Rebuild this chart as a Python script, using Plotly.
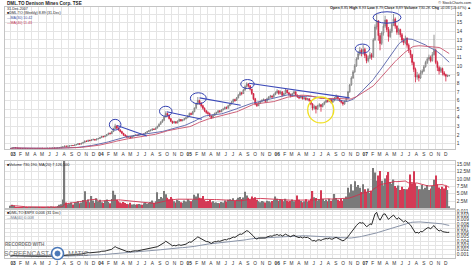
import pandas as pd
import plotly.graph_objects as go

W, H = 474, 266
ML, MR = 5, 19
PW = W - ML - MR

# ---------------- data (weekly) ----------------
close_2003 = [0.45, 0.52, 0.55, 0.5, 0.48, 0.46, 0.45, 0.44, 0.45, 0.43, 0.42, 0.44, 0.43,
              0.44, 0.45, 0.44, 0.46, 0.45, 0.47, 0.46, 0.45, 0.47, 0.48, 0.47, 0.49, 0.5,
              0.49, 0.5, 0.52, 0.55, 0.6, 0.63, 0.72, 0.7, 0.72, 0.75, 0.8, 0.78, 0.85,
              0.9, 1.0, 0.95, 1.05, 1.15, 1.3, 1.25, 1.4, 1.35, 1.45, 1.5, 1.42, 1.55]
high_2003 = [0.48, 0.56, 0.6, 0.56, 0.52, 0.49, 0.48, 0.47, 0.47, 0.46, 0.45, 0.46, 0.46,
             0.46, 0.47, 0.47, 0.48, 0.48, 0.49, 0.49, 0.48, 0.49, 0.5, 0.5, 0.51, 0.52,
             0.52, 0.53, 0.55, 0.58, 0.64, 0.7, 0.78, 0.76, 0.76, 0.8, 0.85, 0.84, 0.9,
             0.96, 1.06, 1.04, 1.1, 1.2, 1.38, 1.38, 1.46, 1.45, 1.52, 1.58, 1.54, 1.6]
low_2003 = [0.42, 0.44, 0.5, 0.47, 0.45, 0.44, 0.43, 0.42, 0.42, 0.41, 0.4, 0.41, 0.41,
            0.42, 0.43, 0.42, 0.43, 0.43, 0.44, 0.44, 0.43, 0.44, 0.45, 0.45, 0.46, 0.47,
            0.47, 0.48, 0.49, 0.51, 0.54, 0.58, 0.62, 0.66, 0.68, 0.68, 0.74, 0.74, 0.77,
            0.84, 0.88, 0.9, 0.93, 1.02, 1.12, 1.2, 1.22, 1.3, 1.32, 1.4, 1.38, 1.4]

close_2004 = [1.6, 1.7, 1.85, 1.8, 1.9, 2.05, 2.2, 2.15, 2.4, 2.75, 3.05, 2.8, 2.6,
              2.4, 2.2, 2.0, 1.9, 1.75, 1.8, 1.7, 1.85, 1.95, 2.0, 1.95, 2.05, 2.1,
              2.05, 2.15, 2.3, 2.4, 2.5, 2.55, 2.7, 2.65, 2.8, 3.0, 3.25, 3.5, 3.7,
              4.1, 4.5, 4.3, 3.9, 3.6, 3.4, 3.55, 3.4, 3.6, 3.8, 3.65, 3.75, 3.9, 4.0]
high_2004 = [1.66, 1.78, 1.9, 1.9, 1.96, 2.1, 2.28, 2.3, 2.48, 2.85, 3.3, 3.15, 2.9,
             2.65, 2.5, 2.25, 2.1, 1.95, 1.9, 1.85, 1.9, 2.0, 2.08, 2.06, 2.1, 2.18,
             2.15, 2.2, 2.35, 2.48, 2.58, 2.65, 2.78, 2.75, 2.88, 3.08, 3.35, 3.6, 3.85,
             4.2, 4.75, 4.6, 4.35, 3.95, 3.65, 3.65, 3.6, 3.7, 3.9, 3.85, 3.82, 3.98, 4.1]
low_2004 = [1.5, 1.58, 1.68, 1.74, 1.76, 1.86, 2.0, 2.08, 2.12, 2.35, 2.7, 2.7, 2.5,
            2.3, 2.1, 1.9, 1.8, 1.65, 1.68, 1.62, 1.66, 1.8, 1.88, 1.88, 1.9, 2.0,
            1.98, 2.0, 2.1, 2.25, 2.35, 2.42, 2.5, 2.58, 2.6, 2.78, 2.95, 3.2, 3.42,
            3.65, 4.05, 4.15, 3.8, 3.5, 3.3, 3.35, 3.3, 3.35, 3.55, 3.55, 3.6, 3.7, 3.82]

close_2005 = [4.2, 4.5, 4.4, 4.7, 5.1, 5.6, 6.0, 5.7, 5.4, 5.1, 4.8, 4.6,
              4.5, 4.2, 4.0, 4.3, 4.5, 4.6, 4.8, 4.7, 4.9, 5.0, 5.2, 5.1, 5.4,
              5.6, 5.8, 6.1, 6.0, 6.3, 6.6, 6.9, 6.8, 7.2, 7.6, 7.9, 7.7, 7.3, 6.8,
              6.2, 5.6, 5.4, 5.7, 5.9, 6.0, 6.1, 5.9, 6.2, 6.4, 6.5, 6.4, 6.7]
high_2005 = [4.3, 4.6, 4.6, 4.8, 5.2, 5.75, 6.4, 6.1, 5.8, 5.5, 5.2, 4.9,
             4.75, 4.6, 4.3, 4.4, 4.6, 4.7, 4.9, 4.88, 5.0, 5.1, 5.3, 5.3, 5.5,
             5.7, 5.95, 6.2, 6.2, 6.4, 6.75, 7.05, 7.0, 7.35, 7.75, 8.1, 8.0, 7.75, 7.35,
             6.85, 6.3, 5.8, 5.85, 6.0, 6.15, 6.25, 6.1, 6.3, 6.5, 6.65, 6.6, 6.8]
low_2005 = [3.95, 4.15, 4.3, 4.35, 4.65, 5.05, 5.5, 5.5, 5.2, 4.95, 4.65, 4.45,
            4.35, 4.1, 3.85, 3.95, 4.2, 4.4, 4.55, 4.6, 4.65, 4.85, 4.95, 5.0, 5.05,
            5.35, 5.55, 5.75, 5.85, 5.95, 6.25, 6.55, 6.6, 6.75, 7.15, 7.5, 7.5, 7.15, 6.65,
            6.05, 5.45, 5.25, 5.35, 5.6, 5.8, 5.9, 5.75, 5.85, 6.1, 6.3, 6.25, 6.35]

close_2006 = [6.9, 7.1, 6.8, 7.0, 6.6, 6.8, 7.2, 6.9, 6.7, 6.5, 6.8, 7.0, 6.6,
              6.4, 6.3, 6.5, 6.2, 6.3, 6.1, 6.2, 6.0, 5.6, 5.1, 5.3, 5.0, 5.4,
              5.5, 5.3, 5.6, 5.8, 6.0, 5.9, 6.1, 5.8, 6.0, 6.3, 6.5, 6.2, 6.0,
              5.8, 5.6, 5.9, 6.3, 7.0, 7.8, 8.6, 9.3, 10.0, 10.8, 11.4, 11.8, 11.6]
high_2006 = [7.05, 7.3, 7.2, 7.15, 7.05, 6.9, 7.35, 7.25, 6.95, 6.8, 6.9, 7.15, 7.05,
             6.7, 6.5, 6.6, 6.55, 6.45, 6.35, 6.3, 6.25, 6.05, 5.7, 5.5, 5.4, 5.5,
             5.7, 5.6, 5.7, 5.9, 6.1, 6.05, 6.2, 6.15, 6.1, 6.4, 6.7, 6.55, 6.25,
             6.05, 5.85, 6.0, 6.4, 7.1, 7.9, 8.8, 9.5, 10.2, 11.0, 11.7, 12.2, 12.0]
low_2006 = [6.6, 6.8, 6.65, 6.7, 6.45, 6.5, 6.7, 6.8, 6.55, 6.35, 6.45, 6.7, 6.5,
            6.3, 6.15, 6.25, 6.1, 6.1, 6.0, 6.0, 5.85, 5.45, 4.85, 4.95, 4.5, 4.9,
            5.2, 4.7, 5.2, 5.45, 5.7, 5.75, 5.8, 5.65, 5.7, 5.9, 6.2, 6.1, 5.85,
            5.65, 5.4, 5.5, 5.85, 6.2, 6.9, 7.7, 8.5, 9.2, 9.9, 10.7, 11.2, 11.1]

close_2007 = [11.9, 11.2, 10.6, 10.9, 11.3, 11.0, 13.0, 14.5, 15.2, 13.5, 12.6, 13.8, 14.6,
              15.3, 14.2, 13.4, 14.0, 14.8, 15.4, 14.6, 13.9, 14.2, 13.6, 13.0, 12.7, 13.2,
              12.4, 11.8, 11.3, 10.4, 9.6, 8.7, 8.9, 8.6, 9.2, 9.4, 9.9, 10.4, 10.8,
              11.0, 10.6, 11.3, 11.8, 10.4, 9.8, 9.4, 9.7, 9.2, 9.0, 8.8, 8.83, 8.89]
high_2007 = [12.4, 12.1, 11.4, 11.2, 11.6, 11.5, 13.2, 14.8, 16.0, 15.3, 13.8, 14.0, 14.9,
             15.8, 15.4, 14.5, 14.3, 15.0, 16.0, 15.6, 14.7, 14.4, 14.3, 13.8, 13.2, 13.5,
             13.3, 12.6, 11.9, 11.4, 10.5, 9.8, 9.3, 9.1, 9.5, 9.6, 10.1, 10.6, 11.0,
             11.3, 11.2, 11.6, 13.6, 12.0, 10.6, 10.0, 9.9, 9.8, 9.4, 9.1, 9.0, 8.93]
low_2007 = [11.3, 10.9, 10.3, 10.4, 10.8, 10.7, 11.0, 12.9, 14.2, 12.9, 11.8, 12.4, 13.5,
            14.4, 13.9, 12.8, 13.2, 13.8, 14.6, 14.3, 13.6, 13.6, 13.3, 12.7, 12.4, 12.5,
            12.1, 11.5, 10.9, 10.1, 9.3, 8.1, 8.4, 8.2, 8.5, 9.0, 9.3, 9.8, 10.2,
            10.6, 10.4, 10.5, 11.2, 10.2, 9.4, 9.0, 9.2, 8.9, 8.8, 8.2, 8.7, 8.79]

# weekly volume, millions of shares
vol_2003 = [0.9, 1.2, 0.8, 0.5, 0.4, 0.3, 0.3, 0.4, 0.3, 0.3, 0.2, 0.3, 0.3,
            0.3, 0.4, 0.3, 0.3, 0.3, 0.4, 0.3, 0.3, 0.4, 0.5, 0.4, 0.6, 0.5,
            0.4, 0.5, 0.8, 1.2, 1.4, 3.0, 16.5, 2.0, 1.4, 1.6, 2.0, 1.3, 1.8,
            2.1, 2.4, 1.7, 2.0, 2.8, 5.8, 2.4, 3.0, 2.1, 4.2, 2.7, 1.9, 3.4]
vol_2004 = [2.4, 2.9, 2.1, 1.8, 2.7, 3.0, 2.2, 1.7, 3.2, 6.0, 4.6, 2.9, 2.4,
            2.0, 1.7, 2.2, 1.8, 1.5, 1.4, 1.9, 1.3, 1.4, 1.2, 1.4, 1.5, 1.3,
            1.2, 1.7, 2.0, 1.6, 1.8, 2.2, 2.7, 1.9, 2.4, 5.5, 3.2, 3.9, 3.4,
            5.9, 4.8, 3.6, 3.1, 3.9, 3.3, 2.4, 2.0, 2.9, 2.5, 2.1, 1.9, 2.7, 2.3]
vol_2005 = [3.1, 2.7, 2.4, 2.9, 4.6, 4.0, 5.1, 3.6, 3.4, 4.2, 2.9, 2.4,
            2.5, 2.8, 2.1, 2.4, 1.9, 2.0, 1.8, 1.7, 2.2, 2.0, 2.7, 2.3, 2.9,
            3.1, 2.8, 3.4, 2.5, 3.0, 3.6, 3.9, 3.2, 3.7, 5.7, 4.4, 3.6, 3.1, 4.0,
            3.4, 3.8, 2.9, 2.4, 2.1, 2.5, 2.3, 2.0, 2.6, 2.4, 2.1, 2.5, 2.9]
vol_2006 = [4.0, 3.3, 2.6, 3.1, 2.9, 2.4, 3.3, 2.6, 2.3, 2.5, 3.0, 2.4, 2.7,
            4.4, 2.9, 2.5, 2.1, 2.4, 3.1, 2.3, 2.6, 3.3, 5.9, 3.8, 3.5, 2.6,
            3.1, 6.2, 3.2, 2.5, 2.9, 2.4, 3.3, 2.6, 3.1, 4.9, 3.5, 2.9, 2.5,
            3.2, 2.6, 3.3, 4.0, 7.0, 5.4, 8.2, 6.1, 9.3, 7.3, 8.0, 7.0, 5.6]
vol_2007 = [8.2, 6.5, 5.6, 6.8, 5.2, 6.0, 13.8, 12.3, 9.4, 11.2, 12.8, 9.4, 7.8,
            10.2, 11.3, 12.4, 9.0, 8.3, 9.9, 7.6, 7.0, 7.8, 6.3, 7.4, 6.6, 6.5,
            6.5, 7.1, 11.6, 8.6, 12.7, 8.6, 7.6, 6.5, 6.5, 8.0, 6.5, 7.0, 8.0,
            6.3, 6.8, 7.6, 9.8, 11.2, 8.2, 7.1, 6.6, 7.4, 6.8, 7.6, 6.3, 0.73]

# S&P 500 monthly closes 2003-2007 (for the DML.TO:$SPX ratio)
spx_monthly = [856, 841, 848, 917, 964, 975, 990, 1008, 996, 1051, 1058, 1112,
               1131, 1145, 1126, 1107, 1121, 1141, 1102, 1104, 1115, 1130, 1174, 1212,
               1181, 1204, 1181, 1157, 1192, 1191, 1234, 1220, 1229, 1207, 1249, 1248,
               1280, 1281, 1295, 1311, 1270, 1270, 1277, 1304, 1336, 1378, 1401, 1418,
               1438, 1407, 1421, 1482, 1531, 1503, 1455, 1474, 1527, 1549, 1481, 1468]

first_open = 0.44
month_letters = ['J', 'F', 'M', 'A', 'M', 'J', 'J', 'A', 'S', 'O', 'N', 'D']
price_ticks = list(range(1, 17))
vol_ticks = [2.5, 5.0, 7.5, 10.0, 12.5, 15.0]
rs_ticks = [0.001, 0.002, 0.003, 0.004, 0.005, 0.006, 0.007, 0.008, 0.009, 0.010, 0.011]

# ---------------- assemble ----------------
close = close_2003 + close_2004 + close_2005 + close_2006 + close_2007
high = high_2003 + high_2004 + high_2005 + high_2006 + high_2007
low = low_2003 + low_2004 + low_2005 + low_2006 + low_2007
vol = vol_2003 + vol_2004 + vol_2005 + vol_2006 + vol_2007
dates = pd.date_range('2003-01-03', periods=len(close), freq='W-FRI')
opn = [first_open] + close[:-1]
high = [max(h, o, c) for h, o, c in zip(high, opn, close)]
low = [min(l, o, c) for l, o, c in zip(low, opn, close)]

s_close = pd.Series(close, index=dates)
ma_fast = s_close.rolling(30, min_periods=1).mean()
ma_slow = s_close.rolling(40, min_periods=1).mean()
spx = [spx_monthly[(d.year - 2003) * 12 + d.month - 1] for d in dates]
rs = pd.Series([c / s for c, s in zip(close, spx)], index=dates)
rs_ma = rs.rolling(40, min_periods=1).mean()
vol_s = pd.Series(vol, index=dates)
vol_ma = vol_s.rolling(20, min_periods=1).mean()
vol_col = ['#7a7a7a' if c >= o else '#d43a55' for o, c in zip(opn, close)]

RED = '#d0203f'
GRID = '#e4e4e4'
FRAME = '#c4c4c4'
FONT = 'Liberation Sans, Arial, sans-serif'


def pyv(py):  # pixel row -> paper y
    return 1 - py / H


def pxv(px):  # pixel column -> paper x (plot area)
    return (px - ML) / PW


fig = go.Figure()
fig.add_trace(go.Candlestick(
    x=dates, open=opn, high=high, low=low, close=close,
    increasing=dict(line=dict(color='#7c7c7c', width=0.8), fillcolor='#d8d8d8'),
    decreasing=dict(line=dict(color=RED, width=0.8), fillcolor=RED),
    whiskerwidth=0, xaxis='x', yaxis='y', showlegend=False, hoverinfo='skip'))
fig.add_trace(go.Scatter(x=dates, y=ma_fast, mode='lines', line=dict(color='#5560a8', width=0.9),
                         xaxis='x', yaxis='y', showlegend=False, hoverinfo='skip'))
fig.add_trace(go.Scatter(x=dates, y=ma_slow, mode='lines', line=dict(color='#c8506a', width=0.9),
                         xaxis='x', yaxis='y', showlegend=False, hoverinfo='skip'))
fig.add_trace(go.Bar(x=dates, y=vol, marker=dict(color=vol_col, line=dict(width=0)),
                     xaxis='x2', yaxis='y2', showlegend=False, hoverinfo='skip'))
fig.add_trace(go.Scatter(x=dates, y=vol_ma, mode='lines', line=dict(color='#d0304c', width=0.9),
                         xaxis='x2', yaxis='y2', showlegend=False, hoverinfo='skip'))
fig.add_trace(go.Scatter(x=dates, y=rs_ma, mode='lines', line=dict(color='#8a94a8', width=1),
                         xaxis='x3', yaxis='y3', showlegend=False, hoverinfo='skip'))
fig.add_trace(go.Scatter(x=dates, y=rs, mode='lines', line=dict(color='#111111', width=0.9),
                         xaxis='x3', yaxis='y3', showlegend=False, hoverinfo='skip'))

month_starts = pd.date_range('2003-01-01', '2007-12-01', freq='MS')
tick_text = ['<b>%02d</b>' % (d.year % 100) if d.month == 1 else month_letters[d.month - 1]
             for d in month_starts]
xrange_ = ['2002-12-11', '2008-01-21']

xcommon = dict(type='date', range=xrange_, tickvals=month_starts, showgrid=True, gridcolor=GRID,
               gridwidth=0.6, zeroline=False, showline=True, linecolor=FRAME, mirror=True,
               linewidth=0.7, ticks='', automargin=False)
xlab = dict(ticktext=tick_text, showticklabels=True, ticklabelshift=3,
            tickfont=dict(size=4.8, color='#333', family=FONT), tickangle=0)
ycommon = dict(side='right', showgrid=True, gridcolor=GRID, gridwidth=0.6, zeroline=False,
               showline=True, linecolor=FRAME, mirror=True, linewidth=0.7, ticks='',
               tickfont=dict(size=4.8, color='#333', family=FONT), automargin=False)

fig.update_layout(
    width=W, height=H, margin=dict(l=ML, r=MR, t=0, b=0),
    paper_bgcolor='white', plot_bgcolor='white', bargap=0.25,
    xaxis=dict(**xcommon, **xlab, domain=[0, 1], anchor='y', rangeslider=dict(visible=False)),
    xaxis2=dict(**xcommon, domain=[0, 1], anchor='y2', matches='x', showticklabels=False),
    xaxis3=dict(**xcommon, **xlab, domain=[0, 1], anchor='y3', matches='x'),
    yaxis=dict(**ycommon, domain=[pyv(149), pyv(7)], range=[0.387, 16.81], tickvals=price_ticks),
    yaxis2=dict(**ycommon, domain=[pyv(208.3), pyv(161)], range=[0, 16.2], tickvals=vol_ticks,
                ticktext=['%.1fM' % v for v in vol_ticks]),
    yaxis3=dict(**ycommon, domain=[pyv(258), pyv(209.5)], range=[0.00007, 0.01135], tickvals=rs_ticks,
                tickformat='.3f'),
)

# ---------------- annotations (ellipses, trendlines) in data units ----------------
ellipses = [  # (center date, center price, half width days, half height price, colour)
    ('2004-03-12', 3.2, 24, 0.62, '#3340b0'),
    ('2004-10-08', 4.75, 26, 0.58, '#3340b0'),
    ('2005-02-20', 6.25, 33, 0.64, '#3340b0'),
    ('2005-09-12', 7.9, 28, 0.52, '#3340b0'),
    ('2007-01-02', 12.0, 30, 0.52, '#3340b0'),
    ('2007-04-14', 15.6, 58, 0.66, '#3340b0'),
    ('2006-07-13', 4.9, 54, 1.5, '#f0e020'),
]
for d, p, hw, hh, col in ellipses:
    c = pd.Timestamp(d)
    fig.add_shape(type='circle', xref='x', yref='y',
                  x0=c - pd.Timedelta(days=hw), x1=c + pd.Timedelta(days=hw),
                  y0=p - hh, y1=p + hh, line=dict(color=col, width=1.3 if col == '#f0e020' else 1))

trendlines = [
    ('2004-03-20', 3.1, '2004-07-21', 1.9),
    ('2004-10-12', 4.7, '2005-03-07', 3.82),
    ('2005-02-25', 6.3, '2005-08-15', 5.45),
    ('2005-09-18', 8.0, '2006-11-10', 6.3),
]
for d0, p0, d1, p1 in trendlines:
    fig.add_shape(type='line', xref='x', yref='y', x0=d0, y0=p0, x1=d1, y1=p1,
                  line=dict(color='#3a48b8', width=1.1))


# ---------------- header texts ----------------
def txt(px, py, s, size=4.2, color='#222', anchor='left', yanchor='middle', align='left'):
    fig.add_annotation(x=pxv(px), y=pyv(py), xref='paper', yref='paper', text=s,
                       showarrow=False, xanchor=anchor, yanchor=yanchor, align=align,
                       borderpad=0, font=dict(size=size, color=color, family=FONT))


txt(6, -0.3,
    '<span style="font-size:4.6px"><b>DML.TO Denison Mines Corp. TSE</b></span><br>'
    '31-Dec-2007<br>'
    '■DML.TO (Weekly) 8.89 (31-Dec)<br>'
    '<span style="color:#4050a0">—MA(30) %.2f</span><br>'
    '<span style="color:#c03050">—MA(40) %.2f</span>' % (ma_fast.iloc[-1], ma_slow.iloc[-1]),
    size=3.6, yanchor='top')
txt(472, 0, '© StockCharts.com<br><b>Open</b> 8.85 <b>High</b> 8.93 <b>Low</b> 8.79 <b>Close</b> 8.89 '
            '<b>Volume</b> 730.2K <b>Chg</b> +0.06 (+0.67%) ▲', size=3.8, anchor='right', yanchor='top',
    align='right')
txt(6, 161.5, '■Volume 730,190, MA(20) %s' % format(int(vol_ma.iloc[-1] * 1e6), ','), size=3.8,
    yanchor='top')
txt(6, 209.5, '■DML.TO:$SPX 0.006 (31 Dec)<br><span style="color:#6a7488">—MA(40) %.3f</span>'
    % rs_ma.iloc[-1], size=3.8, yanchor='top')

# ---------------- recorder watermark ----------------
txt(4, 244.5, '<b>RECORDED WITH</b>', size=4.6, color='#7a7a7a')
txt(3, 253.5, 'SCREENCAST-', size=6.6, color='#707070')
txt(64.5, 253.5, '-MATIC', size=6.6, color='#707070')
fig.add_shape(type='circle', xref='paper', yref='paper', x0=pxv(51.5), x1=pxv(63.5), y0=pyv(259.5),
              y1=pyv(247.5), line=dict(color='#4a78b8', width=1.6), fillcolor='white')
fig.add_shape(type='circle', xref='paper', yref='paper', x0=pxv(55), x1=pxv(60), y0=pyv(256), y1=pyv(251),
              line=dict(color='#4a78b8', width=1), fillcolor='#4a78b8')

fig.write_html('out.html')
